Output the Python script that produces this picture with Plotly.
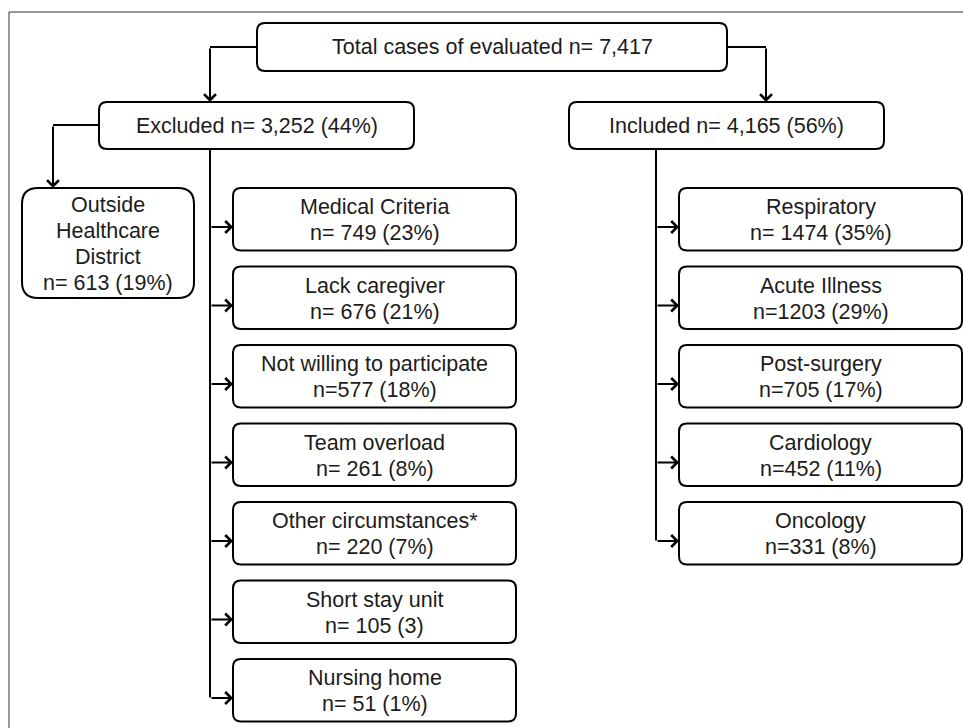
import plotly.graph_objects as go

# ---------------- data ----------------
total_label = "Total cases of evaluated"
total_n = "7,417"
excluded_label = "Excluded"
excluded_n = "3,252"
excluded_pct = "44%"
included_label = "Included"
included_n = "4,165"
included_pct = "56%"
outside_lines = ["Outside", "Healthcare", "District"]
outside_n = 613
outside_pct = "19%"

excl_names = ["Medical Criteria", "Lack caregiver", "Not willing to participate",
              "Team overload", "Other circumstances*", "Short stay unit", "Nursing home"]
excl_counts = [749, 676, 577, 261, 220, 105, 51]
excl_pcts = ["23%", "21%", "18%", "8%", "7%", "3", "1%"]
excl_sep = [" ", " ", "", " ", " ", " ", " "]

incl_names = ["Respiratory", "Acute Illness", "Post-surgery", "Cardiology", "Oncology"]
incl_counts = [1474, 1203, 705, 452, 331]
incl_pcts = ["35%", "29%", "17%", "11%", "8%"]
incl_sep = [" ", "", "", "", ""]

# ---------------- layout helpers ----------------
W, H = 963, 728
FONT = dict(family="Liberation Sans, Arial, sans-serif", size=21.5, color="#1c1c1c")
LW = 2
LINE_GAP = 26.3

shapes = []
annotations = []


def rrect(x0, y0, x1, y1, r):
    p = (f"M{x0+r},{y0} L{x1-r},{y0} Q{x1},{y0} {x1},{y0+r} "
         f"L{x1},{y1-r} Q{x1},{y1} {x1-r},{y1} L{x0+r},{y1} "
         f"Q{x0},{y1} {x0},{y1-r} L{x0},{y0+r} Q{x0},{y0} {x0+r},{y0} Z")
    shapes.append(dict(type="path", path=p, xref="x", yref="y",
                       line=dict(color="black", width=LW), fillcolor="white", layer="above"))


def label(x, y, lines):
    n = len(lines)
    for i, t in enumerate(lines):
        annotations.append(dict(x=x, y=y + (i - (n - 1) / 2) * LINE_GAP, xref="x", yref="y",
                                text=t, showarrow=False, font=FONT,
                                xanchor="center", yanchor="middle", align="center"))


def line(x0, y0, x1, y1):
    shapes.append(dict(type="line", x0=x0, y0=y0, x1=x1, y1=y1, xref="x", yref="y",
                       line=dict(color="black", width=LW), layer="below"))


def arrow(tx, ty, hx, hy):
    annotations.append(dict(x=hx, y=hy, ax=tx, ay=ty, xref="x", yref="y", axref="x", ayref="y",
                            text="", showarrow=True, arrowhead=4, arrowsize=1.15,
                            arrowwidth=LW, arrowcolor="black", standoff=0))


# frame
shapes.append(dict(type="rect", x0=9, y0=12, x1=975, y1=745, xref="x", yref="y",
                   line=dict(color="#333333", width=1), layer="below"))

# top box
rrect(257, 23, 727, 71, 8)
label(492, 47, [f"{total_label} n= {total_n}"])

# excluded / included
rrect(99, 102, 414, 149, 8)
label(256.5, 125.5, [f"{excluded_label} n= {excluded_n} ({excluded_pct})"])
rrect(569, 102, 884, 149, 8)
label(726.5, 125.5, [f"{included_label} n= {included_n} ({included_pct})"])

# connectors from top box
line(257, 47, 210, 47)
arrow(210, 47, 210, 102)
line(727, 47, 766, 47)
arrow(766, 47, 766, 102)

# outside box
line(99, 125, 53, 125)
arrow(53, 125, 53, 188)
rrect(22, 188, 194, 298, 16)
label(108, 244, outside_lines + [f"n= {outside_n} ({outside_pct})"])

# sub-boxes
TOP0, PITCH, BH = 188, 78.5, 62.5

# excluded branch
ex_x0, ex_x1, ex_trunk = 233, 516, 210
last_y = TOP0 + (len(excl_names) - 1) * PITCH + 38.5
line(ex_trunk, 149, ex_trunk, last_y)
for i, (nm, c, p, s) in enumerate(zip(excl_names, excl_counts, excl_pcts, excl_sep)):
    t = TOP0 + i * PITCH
    rrect(ex_x0, t, ex_x1, t + BH, 8)
    label((ex_x0 + ex_x1) / 2, t + BH / 2 + 1, [nm, f"n={s}{c} ({p})"])
    arrow(ex_trunk, t + 39, ex_x0, t + 39)

# included branch
in_x0, in_x1, in_trunk = 679, 962, 656
last_y = TOP0 + (len(incl_names) - 1) * PITCH + 38.5
line(in_trunk, 149, in_trunk, last_y)
for i, (nm, c, p, s) in enumerate(zip(incl_names, incl_counts, incl_pcts, incl_sep)):
    t = TOP0 + i * PITCH
    rrect(in_x0, t, in_x1, t + BH, 8)
    label((in_x0 + in_x1) / 2, t + BH / 2 + 1, [nm, f"n={s}{c} ({p})"])
    arrow(in_trunk, t + 39, in_x0, t + 39)

fig = go.Figure()
fig.update_layout(
    width=W, height=H, margin=dict(l=0, r=0, t=0, b=0),
    paper_bgcolor="white", plot_bgcolor="white",
    xaxis=dict(range=[0, W], visible=False, fixedrange=True),
    yaxis=dict(range=[H, 0], visible=False, fixedrange=True),
    shapes=shapes, annotations=annotations, showlegend=False,
)
fig.write_html("out.html", config={"displayModeBar": False, "staticPlot": True},
               post_script="document.body.style.margin='0';document.body.style.overflow='hidden';")
